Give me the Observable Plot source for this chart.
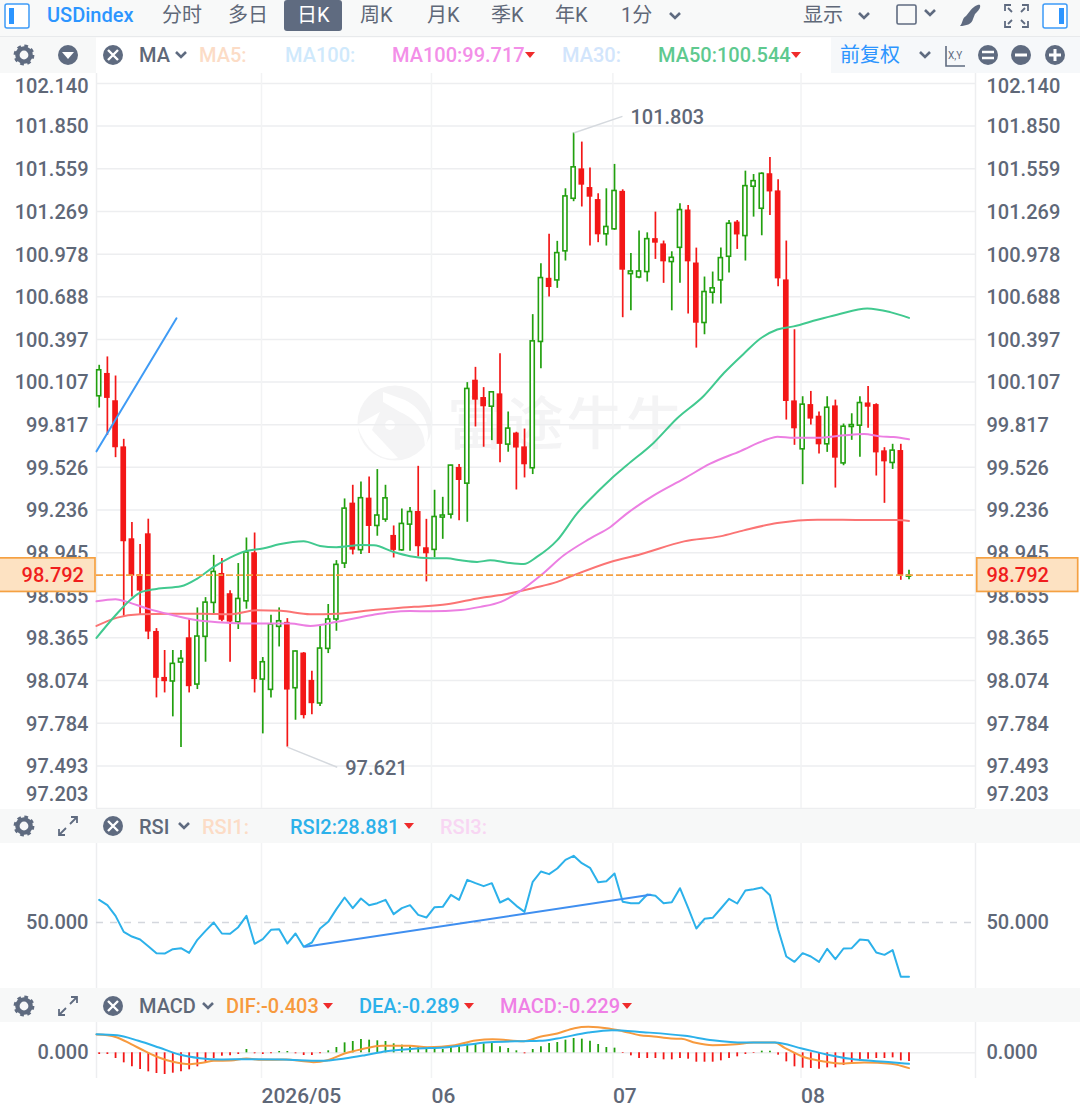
<!DOCTYPE html>
<html><head><meta charset="utf-8">
<script src="https://cdn.jsdelivr.net/npm/d3@7"></script>
<script src="https://cdn.jsdelivr.net/npm/@observablehq/plot@0.6"></script>
<style>
html,body{margin:0;padding:0;background:#fff;width:1080px;height:1118px;overflow:hidden}
#root{position:relative;width:1080px;height:1118px;font-family:Roboto,"Noto Sans CJK SC",sans-serif}
#root>svg,#root>div{position:absolute}
.plot{overflow:visible;background:transparent}
</style></head><body><div id="root"></div>
<script>
const opens=[100.010,100.160,99.974,99.660,99.034,98.789,99.068,98.403,98.090,98.068,98.197,98.360,98.047,98.372,98.603,98.798,98.660,98.471,98.614,98.939,98.081,98.011,98.440,98.465,98.022,98.256,98.070,97.918,98.290,98.490,98.871,99.277,98.962,99.311,99.127,99.170,99.057,98.961,99.136,99.220,98.973,98.964,99.184,99.204,99.520,99.415,100.114,99.996,99.939,100.021,99.681,99.754,99.660,99.520,100.380,100.808,100.799,100.997,101.355,101.553,101.426,101.344,101.113,101.147,101.400,100.842,100.819,100.856,101.078,101.042,100.924,101.021,101.273,100.912,100.509,100.715,100.799,100.960,101.191,101.101,101.437,101.287,101.520,101.403,100.797,99.973,99.649,99.948,99.869,99.683,99.939,99.553,99.801,99.810,99.959,99.948,99.633,99.556,99.635,98.782];
const closes=[100.187,100.001,99.665,99.025,98.791,98.689,98.410,98.095,98.072,98.188,98.222,98.038,98.374,98.605,98.814,98.490,98.478,98.630,98.946,98.086,98.199,98.456,98.478,98.015,98.272,97.841,97.922,98.292,98.490,98.862,99.245,98.968,99.316,99.129,99.198,99.315,98.966,99.141,99.222,98.991,98.943,99.188,99.198,99.538,99.442,100.060,99.989,99.944,100.037,99.688,99.790,99.663,99.549,100.384,100.815,100.756,100.985,101.371,101.569,101.453,101.371,101.115,101.163,101.408,100.874,100.860,100.860,101.080,101.058,100.931,100.953,101.278,100.931,100.513,100.720,100.745,100.951,101.185,101.114,101.441,101.475,101.525,101.407,100.815,99.980,99.794,99.953,99.860,99.685,99.932,99.594,99.803,99.814,99.964,99.941,99.630,99.569,99.640,98.791,98.789];
const highs=[100.221,100.278,100.148,99.717,99.150,99.000,99.173,98.428,98.279,98.279,98.279,98.490,98.569,98.639,98.927,98.905,98.685,98.871,99.045,99.079,98.231,98.519,98.569,98.496,98.276,98.265,98.138,98.446,98.592,98.891,99.311,99.404,99.427,99.461,99.511,99.404,99.127,99.243,99.252,99.533,99.172,99.370,99.322,99.540,99.545,100.103,100.207,100.069,100.039,100.300,99.903,99.765,99.787,100.566,100.913,101.113,101.065,101.423,101.803,101.741,101.564,101.389,101.423,101.589,101.416,100.983,101.135,101.123,101.264,101.067,100.994,101.321,101.309,101.019,100.822,100.856,101.019,101.207,101.207,101.543,101.520,101.532,101.636,101.484,101.067,100.463,100.007,100.043,99.903,100.007,99.984,99.821,99.891,100.007,100.077,99.959,99.660,99.683,99.683,98.825];
const lows=[99.930,99.744,99.592,98.512,98.644,98.519,98.353,97.956,97.990,97.827,97.618,97.990,98.013,98.199,98.530,98.474,98.199,98.422,98.560,97.990,97.711,97.956,98.303,97.621,97.804,97.813,97.841,97.897,98.258,98.410,98.837,98.930,98.932,98.939,99.057,99.152,98.909,98.955,98.955,98.916,98.746,98.911,99.036,99.175,99.163,99.152,99.801,99.663,99.708,99.558,99.629,99.372,99.454,99.477,100.198,100.686,100.745,100.931,101.335,101.299,101.033,101.056,101.033,101.140,100.545,100.592,100.810,100.788,100.942,100.779,100.592,100.779,100.570,100.338,100.429,100.638,100.638,100.849,101.010,100.931,101.230,101.103,101.241,100.756,99.848,99.676,99.408,99.814,99.617,99.628,99.385,99.537,99.710,99.594,99.792,99.467,99.281,99.512,98.757,98.761];

const ma50X=[-0.33,2,4,5,7,10,12,14,16,18,20,22,25,27,29,32,33.6,36,38,40.5,42.5,44.2,46.2,47.8,49.9,51.9,53.5,56,58.4,60.9,62.5,64.5,67.8,70.6,73.9,76.4,78.8,80.8,82.9,84.9,87.8,90.2,93.9,96.7,99];
const ma50Y=[98.365,98.519,98.633,98.673,98.698,98.716,98.769,98.848,98.912,98.957,98.973,99.002,99.023,98.991,98.982,98.998,98.995,98.950,98.921,98.907,98.907,98.893,98.882,98.893,98.877,98.868,98.916,99.030,99.211,99.358,99.444,99.540,99.694,99.857,100.012,100.170,100.300,100.402,100.465,100.486,100.531,100.565,100.608,100.583,100.544];
const ma100X=[-0.33,2,3.4,5.9,8.7,12,16,19.3,23.4,25.8,29.1,33.2,35.6,38,40.5,44.2,46.6,49.1,51.5,54,56.8,60,62.5,64.5,67.8,71.5,74.7,78.4,81.7,82.9,84.9,87.8,91,93.5,95.5,97.1,99];
const ma100Y=[98.614,98.628,98.610,98.564,98.524,98.485,98.467,98.462,98.462,98.446,98.474,98.519,98.540,98.548,98.546,98.555,98.576,98.610,98.685,98.791,98.927,99.041,99.120,99.211,99.335,99.449,99.551,99.637,99.717,99.735,99.728,99.728,99.744,99.753,99.737,99.732,99.717];
const ma200X=[-0.33,2.2,5,8.7,12.8,16,19.3,22.2,25.8,29.1,33.2,38.5,42.5,46.6,49.5,53.1,56,58,62.5,66.2,71.5,75.9,78.8,82.9,87.8,93,97.5,99];
const ma200Y=[98.446,98.503,98.526,98.530,98.530,98.526,98.553,98.549,98.526,98.530,98.553,98.576,98.594,98.637,98.660,98.705,98.746,98.791,98.882,98.934,99.022,99.056,99.097,99.147,99.170,99.168,99.168,99.161];

const trendMain={x:[-0.33,9.45],y:[99.635,100.541]};
const priceTicks=[101.850,101.559,101.269,100.978,100.688,100.397,100.107,99.817,99.526,99.236,98.945,98.655,98.365,98.074,97.784,97.493];
const topTick=102.140, bottomTick=97.203, lastPrice=98.792;
const monthIdx=[19.84,40.62,62.8,85.8];
const monthLabels=["2026/05","06","07","08"];
const extremes=[{i:58,p:101.803,i2:63.97,p2:101.916,t:"101.803"},{i:23,p:97.621,i2:29.1,p2:97.484,t:"97.621"}];

const rsi2=[58.82,56.74,52.59,46.37,44.55,43.39,40.79,38.07,37.94,39.63,40.02,38.20,43.26,46.76,50.00,45.72,45.59,48.18,52.59,41.70,43.52,47.15,47.41,41.83,45.72,40.54,42.22,47.67,50.26,55.19,59.72,55.58,59.33,56.74,57.52,58.82,53.24,55.58,56.74,52.98,51.94,55.96,56.09,60.76,58.82,66.60,65.30,64.13,65.30,57.78,59.33,56.48,54.15,65.82,69.84,68.80,71.00,74.37,75.93,73.08,71.26,65.69,66.08,69.06,58.04,57.52,57.52,60.89,60.37,57.52,57.91,63.35,55.70,47.67,51.43,51.82,55.45,59.21,57.39,62.45,62.97,63.61,60.63,47.41,36.78,34.70,38.07,36.78,34.70,39.76,35.74,39.89,40.02,43.39,43.13,38.33,37.42,39.24,28.87,28.881];
const trendRsi={x:[25.2,67.4],y:[40.54,60.76]};

const macdBars=[-.044,-.044,-.149,-.263,-.368,-.439,-.500,-.544,-.570,-.535,-.500,-.447,-.368,-.254,-.149,-.088,-.079,-.044,.088,-.026,-.044,-.026,.035,.035,-.026,-.070,-.070,-.026,.053,.140,.263,.298,.351,.333,.316,.298,.237,.202,.158,.140,.114,.088,.088,.140,.158,.228,.228,.237,.263,.158,.114,.053,-.026,.088,.158,.246,.272,.333,.377,.360,.307,.219,.140,.123,-.018,-.079,-.149,-.149,-.149,-.184,-.184,-.149,-.167,-.246,-.246,-.246,-.211,-.149,-.105,-.044,-.018,.044,.044,-.061,-.237,-.368,-.404,-.412,-.430,-.395,-.395,-.333,-.281,-.219,-.167,-.149,-.149,-.132,-.211,-.229];
const difX=[-0.33,1,2.2,3.9,5.6,7.3,9,11.1,12.8,14,16.1,18,19.9,22.9,24.5,26.2,27.9,30,32.1,34.6,38,40.1,43.5,46,48.1,51.9,53.9,56,58.1,59.8,62.3,64,66.1,67.8,69.9,71.2,72.9,75,77.9,80,82.6,83.8,86.3,88.4,90.5,93.5,96.8,99];
const difY=[.482,.465,.404,.228,.044,-.123,-.237,-.298,-.254,-.211,-.202,-.149,-.184,-.175,-.211,-.246,-.193,-.018,.096,.184,.184,.149,.202,.325,.360,.307,.421,.509,.649,.684,.640,.570,.465,.430,.377,.368,.263,.202,.228,.272,.272,.132,-.123,-.219,-.281,-.254,-.289,-.403];
const deaX=[-0.33,2.2,4.8,7.3,9.8,12.3,14.9,18.2,22.4,27.1,30,32.5,35.1,38.4,42.6,47.7,51.9,53.9,56,59.8,62.7,66.5,71.6,75,78.8,82.6,85.9,88.8,91.8,96.8,99];
const deaY=[.491,.465,.316,.140,-.044,-.140,-.175,-.167,-.175,-.211,-.149,-.061,.044,.105,.149,.281,.307,.316,.377,.535,.596,.544,.447,.333,.272,.272,.114,-.035,-.158,-.246,-.289];

const GREEN="#22a00f",RED="#f31717",GRID="#edeef0",VGRID="#f2f3f4",INK="#5f6878",ORANGE="#f5a142";
const candles=opens.map((o,i)=>({i,o,c:closes[i],h:highs[i],l:lows[i],up:closes[i]>=o}));
const rows=(X,Y)=>X.map((x,k)=>({x,y:Y[k]}));
const xScale={type:"linear",domain:[-0.33,107.13],range:[96,975]};
const style={fontFamily:'Roboto,"Noto Sans CJK SC",sans-serif',fontSize:"20px",background:"transparent",overflow:"visible"};
const fmt=d=>d.toFixed(3);
const sideAxes=(ticks,extra={})=>[
  Plot.axisY(ticks,{anchor:"left",tickSize:0,tickPadding:8,tickFormat:fmt,fill:INK,fontSize:20,fontWeight:500,label:null,...extra}),
  Plot.axisY(ticks,{anchor:"right",tickSize:0,tickPadding:11,tickFormat:fmt,fill:INK,fontSize:20,fontWeight:500,label:null,...extra})
];
const vRules=[Plot.ruleX(monthIdx,{stroke:VGRID,strokeWidth:1.5}),Plot.ruleX(xScale.domain,{stroke:GRID,strokeWidth:1.5})];

const priceDomain=[97.203,102.208];
const main=Plot.plot({
  width:1080,height:735,marginTop:0,marginBottom:0,marginLeft:96,marginRight:105,style,
  x:{...xScale,axis:null},y:{domain:priceDomain,range:[735,0],axis:null},
  marks:[
    Plot.ruleY([...priceTicks,topTick,bottomTick],{stroke:GRID,strokeWidth:1.5}),
    ...vRules,
    ...sideAxes(priceTicks,{dy:1}),
    ...sideAxes([topTick],{dy:3}),
    ...sideAxes([bottomTick],{dy:-14}),
    Plot.ruleX(candles,{x:"i",y1:"l",y2:"h",stroke:d=>d.up?GREEN:RED,strokeWidth:1.7}),
    Plot.rect(candles,{x1:d=>d.i-0.25,x2:d=>d.i+0.25,y1:"o",y2:"c",fill:d=>d.up?"#fff":RED,stroke:d=>d.up?GREEN:RED,strokeWidth:1.6}),
    Plot.line(rows(ma200X,ma200Y),{x:"x",y:"y",stroke:"#fb7474",strokeWidth:2,curve:"monotone-x"}),
    Plot.line(rows(ma100X,ma100Y),{x:"x",y:"y",stroke:"#ec7fe2",strokeWidth:2,curve:"monotone-x"}),
    Plot.line(rows(ma50X,ma50Y),{x:"x",y:"y",stroke:"#41c98f",strokeWidth:2,curve:"monotone-x"}),
    Plot.line(rows(trendMain.x,trendMain.y),{x:"x",y:"y",stroke:"#3f9bf5",strokeWidth:2}),
    Plot.ruleY([lastPrice],{stroke:ORANGE,strokeWidth:1.8,strokeDasharray:"7,3"}),
    Plot.link(extremes,{x1:"i",y1:"p",x2:"i2",y2:"p2",stroke:"#d5d9de",strokeWidth:1.5}),
    Plot.text(extremes,{x:"i2",y:"p2",text:"t",textAnchor:"start",dx:8,dy:1,fill:INK,fontSize:20,fontWeight:500})
  ]
});
main.style.cssText+=";left:0;top:73px";

const rsiPlot=Plot.plot({
  width:1080,height:145,marginTop:0,marginBottom:0,marginLeft:96,marginRight:105,style,
  x:{...xScale,axis:null},y:{domain:[24.33,80.73],axis:null},
  marks:[
    ...vRules,
    ...sideAxes([50]),
    Plot.ruleY([50],{stroke:"#d4d7dd",strokeWidth:1.5,strokeDasharray:"7,7"}),
    Plot.line(rsi2.map((y,x)=>({x,y})),{x:"x",y:"y",stroke:"#2cb1ea",strokeWidth:2}),
    Plot.line(rows(trendRsi.x,trendRsi.y),{x:"x",y:"y",stroke:"#3f8ff0",strokeWidth:2})
  ]
});
rsiPlot.style.cssText+=";left:0;top:843px";

const macdPlot=Plot.plot({
  width:1080,height:96,marginTop:0,marginBottom:40,marginLeft:96,marginRight:105,style,
  x:{...xScale,axis:null},y:{domain:[-.675,.798],axis:null},
  marks:[
    ...vRules,
    Plot.ruleY([0],{stroke:GRID,strokeWidth:1.5}),
    ...sideAxes([0]),
    Plot.ruleX(macdBars.map((v,x)=>({x,v})),{x:"x",y1:0,y2:"v",stroke:d=>d.v>=0?GREEN:RED,strokeWidth:1.8}),
    Plot.line(rows(difX,difY),{x:"x",y:"y",stroke:"#f79a3e",strokeWidth:2,curve:"monotone-x"}),
    Plot.line(rows(deaX,deaY),{x:"x",y:"y",stroke:"#2cb1ea",strokeWidth:2,curve:"monotone-x"}),
    Plot.axisX(monthIdx,{anchor:"bottom",tickSize:0,tickPadding:10,textAnchor:"start",dx:0,tickFormat:(d,i)=>monthLabels[i],fill:INK,fontSize:21,fontWeight:500,label:null})
  ]
});
macdPlot.style.cssText+=";left:0;top:1022px";

/* page furniture */
const NS="http://www.w3.org/2000/svg";
const SLATE="#5f6b80";
const T=(x,y,s,fill,o={})=>`<text x="${x}" y="${y}" fill="${fill}" font-size="${o.size||20}" font-weight="${o.w||400}" dominant-baseline="central" text-anchor="${o.a||"start"}">${s}</text>`;
const chev=(x,y,c=SLATE)=>`<polyline points="${x-5},${y-3} ${x},${y+2} ${x+5},${y-3}" fill="none" stroke="${c}" stroke-width="2.6"/>`;
const tri=(x,y)=>`<path d="M${x-5},${y-3}h10l-5,6z" fill="#ef2b2b"/>`;
const gear=(x,y)=>`<circle cx="${x}" cy="${y}" r="6.6" fill="none" stroke="${SLATE}" stroke-width="4.4"/><circle cx="${x}" cy="${y}" r="8.9" fill="none" stroke="${SLATE}" stroke-width="3" stroke-dasharray="3.6 3.4"/>`;
const disc=(x,y,inner)=>`<circle cx="${x}" cy="${y}" r="10" fill="${SLATE}"/>${inner}`;
const xDisc=(x,y)=>disc(x,y,`<path d="M${x-5},${y-5}L${x+5},${y+5}M${x+5},${y-5}L${x-5},${y+5}" stroke="#fff" stroke-width="2.4"/>`);
const expand=(x,y)=>`<path d="M${x+2},${y-2}L${x+9},${y-9}M${x+3},${y-9}h6v6M${x-2},${y+2}L${x-9},${y+9}M${x-9},${y+3}v6h6" fill="none" stroke="${SLATE}" stroke-width="1.8"/>`;
const side=(x,y,left)=>`<rect x="${x}" y="${y}" width="24" height="24" rx="2" fill="#fff" stroke="#3d9bf8" stroke-width="1.5"/><rect x="${left?x+4:x+16}" y="${y+4}" width="5" height="16" fill="#2c95ff"/>`;
const full=(x,y)=>`<path d="M${x},${y+6}v-6h6M${x+23},${y+6}v-6h-6M${x},${y+16}v6h6M${x+23},${y+16}v6h-6M${x+3},${y+3}l4,4M${x+20},${y+3}l-4,4M${x+3},${y+19}l4,-4M${x+20},${y+19}l-4,-4" fill="none" stroke="${SLATE}" stroke-width="1.8"/>`;
let f="";
f+=`<rect width="1080" height="36" fill="#f8f9f9"/><rect y="36" width="1080" height="1.2" fill="#e8eaec"/>`;
f+=`<rect y="37" width="96" height="36" fill="#f7f8f8"/><rect x="831" y="37" width="249" height="36" fill="#f6f8fa"/>`;
f+=side(5,4,true)+T(47,15,"USDindex","#2c95ff",{w:500});
[["分时",162],["多日",228],["周K",360],["月K",427],["季K",491],["年K",555],["1分",621]].forEach(([s,x])=>f+=T(x,15,s,INK));
f+=`<rect x="284" y="0" width="58" height="31" rx="3" fill="${SLATE}"/>`+T(297,15,"日K","#fff");
f+=chev(675,16)+T(803,15,"显示",INK)+chev(864,16);
f+=`<rect x="897" y="5" width="19" height="19" rx="1.5" fill="none" stroke="${SLATE}" stroke-width="1.6"/>`+chev(930,13);
f+=`<path d="M980,5C978,4 973,7 970,11L966,16C962,18 963,23 960,26C966,26 972,24 973,19L975,14C978,11 981,8 980,5z" fill="${SLATE}"/>`;
f+=full(1005,5)+side(1043,4,false);
f+=gear(24,55)+disc(68,55,`<path d="M62,52h12l-6,7z" fill="#fff"/>`)+xDisc(113,55);
f+=T(139,55,"MA",INK,{w:500})+chev(181,55);
f+=T(199,55,"MA5:","#fcdcc6",{w:500})+T(285,55,"MA100:","#cfe9fc",{w:500})+T(392,55,"MA100:99.717","#f38fe8",{w:500})+tri(530,55);
f+=T(562,55,"MA30:","#d2e5fc",{w:500})+T(658,55,"MA50:100.544","#5ec98f",{w:500})+tri(796,55);
f+=T(840,55,"前复权","#2c95ff")+chev(925,55);
f+=`<path d="M946,46v20h19" fill="none" stroke="${SLATE}" stroke-width="1.6"/>`+T(948,55,"X,Y",SLATE,{size:10});
f+=disc(988,55,`<path d="M982,52h12M982,58h12" stroke="#fff" stroke-width="2.4"/>`);
f+=disc(1021,55,`<path d="M1015,55h12" stroke="#fff" stroke-width="3"/>`);
f+=disc(1055,55,`<path d="M1049,55h12M1055,49v12" stroke="#fff" stroke-width="3"/>`);
f+=`<rect y="809" width="1080" height="34" fill="#f7f8f8"/><rect y="988" width="1080" height="34" fill="#f7f8f8"/>`;
f+=gear(24,826)+expand(68,826)+xDisc(113,826);
f+=T(139,827,"RSI",INK,{w:500})+chev(184,826)+T(202,827,"RSI1:","#fcdcc6",{w:500})+T(290,827,"RSI2:28.881","#2cb1ea",{w:500})+tri(409,826)+T(440,827,"RSI3:","#f8d6f3",{w:500});
f+=gear(24,1006)+expand(68,1006)+xDisc(113,1006);
f+=T(139,1006,"MACD",INK,{w:500})+chev(208,1006)+T(226,1006,"DIF:-0.403","#f79a3e",{w:500})+tri(328,1006)+T(359,1006,"DEA:-0.289","#2cb1ea",{w:500})+tri(469,1006)+T(500,1006,"MACD:-0.229","#ef7fe5",{w:500})+tri(627,1006);

const root=document.getElementById("root");
const wm=document.createElementNS(NS,"svg");
wm.setAttribute("width",1080);wm.setAttribute("height",1118);wm.style.cssText="left:0;top:0";
wm.innerHTML=`<circle cx="395" cy="423" r="37.5" fill="#f4f4f5"/><path d="M383,392L405,400C425,410 433,430 425,448C425,432 418,420 400,412L383,402z" fill="#fff"/><path d="M357,425L380,412L372,430L398,458C380,462 365,448 357,425z" fill="#fff"/><circle cx="390" cy="425" r="5" fill="#fff"/>`+
 `<text x="447" y="424" font-size="57" fill="#f4f4f5" dominant-baseline="central" font-weight="500" textLength="236" lengthAdjust="spacing">富途牛牛</text>`;
root.append(wm,main,rsiPlot,macdPlot);
const chrome=document.createElementNS(NS,"svg");
chrome.setAttribute("width",1080);chrome.setAttribute("height",1118);chrome.style.cssText="left:0;top:0;pointer-events:none";
const tagY=73+main.scale("y").apply(lastPrice);
const box=(x,w)=>`<rect x="${x}" y="${tagY-16.8}" width="${w}" height="33.6" fill="#fde2c2" stroke="${ORANGE}" stroke-width="1.7"/>`;
const tagText=(x,a)=>T(x,tagY,lastPrice.toFixed(3),"#f01d1d",{a,w:500});
chrome.innerHTML=f+box(-1,96)+tagText(84,"end")+box(976.7,101)+tagText(986.5,"start");
root.append(chrome);
</script></body></html>
